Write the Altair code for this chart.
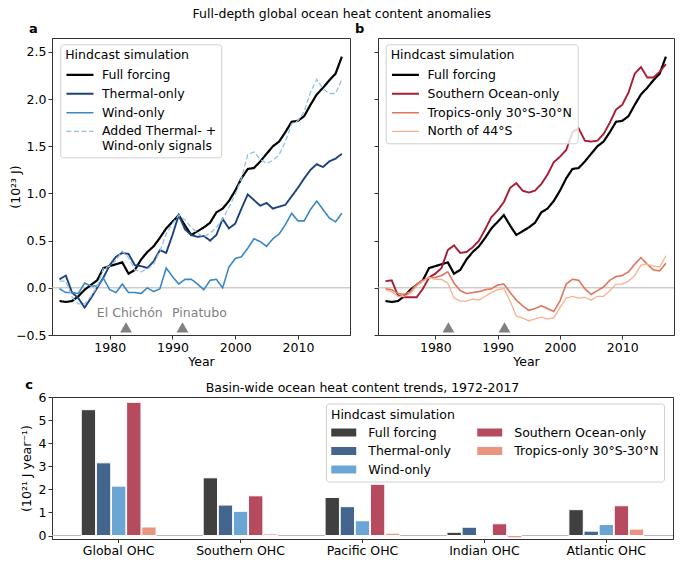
import altair as alt
import pandas as pd

FONT = "DejaVu Sans"
FS = 12.5

years = list(range(1972, 2018))

full_forcing = [-0.14, -0.15, -0.14, -0.09, -0.02, 0.03, 0.08, 0.21, 0.23, 0.25, 0.27, 0.15, 0.19, 0.30, 0.38, 0.44,
                0.53, 0.63, 0.70, 0.77, 0.66, 0.56, 0.60, 0.64, 0.69, 0.80, 0.84, 0.92, 1.03, 1.16, 1.26, 1.27,
                1.34, 1.42, 1.50, 1.55, 1.65, 1.76, 1.77, 1.82, 1.94, 2.05, 2.12, 2.20, 2.27, 2.45]
thermal_only = [0.09, 0.13, -0.05, -0.11, -0.21, -0.11, 0.00, 0.11, 0.24, 0.33, 0.37, 0.36, 0.24, 0.23, 0.21, 0.28,
                0.40, 0.37, 0.56, 0.77, 0.62, 0.56, 0.54, 0.55, 0.50, 0.56, 0.73, 0.63, 0.68, 0.84, 0.99, 0.93,
                0.87, 0.90, 0.84, 0.86, 0.88, 0.97, 1.06, 1.16, 1.25, 1.31, 1.28, 1.34, 1.37, 1.42]
wind_only = [-0.01, -0.05, -0.05, -0.06, 0.05, 0.02, 0.02, 0.10, -0.02, -0.05, 0.04, -0.05, -0.05, -0.06, 0.00, -0.04,
             -0.01, 0.21, 0.12, 0.04, 0.09, 0.09, 0.04, -0.02, 0.08, 0.09, 0.00, 0.22, 0.31, 0.33, 0.42, 0.52,
             0.49, 0.44, 0.52, 0.57, 0.67, 0.79, 0.71, 0.71, 0.83, 0.92, 0.83, 0.74, 0.70, 0.79]
added_signals = [0.07, 0.07, -0.10, -0.17, -0.17, -0.09, 0.01, 0.21, 0.23, 0.29, 0.39, 0.32, 0.19, 0.17, 0.20, 0.25,
                 0.39, 0.57, 0.68, 0.77, 0.72, 0.64, 0.58, 0.54, 0.58, 0.64, 0.73, 0.85, 0.99, 1.16, 1.41, 1.44,
                 1.36, 1.32, 1.35, 1.41, 1.55, 1.74, 1.77, 1.87, 2.07, 2.21, 2.11, 2.06, 2.06, 2.21]
southern_only = [0.07, 0.08, -0.08, -0.10, -0.10, -0.10, -0.01, 0.11, 0.15, 0.21, 0.40, 0.45, 0.37, 0.38, 0.43, 0.50,
                 0.62, 0.75, 0.82, 0.91, 1.06, 1.11, 1.03, 1.01, 1.03, 1.10, 1.20, 1.33, 1.39, 1.46, 1.65, 1.69,
                 1.56, 1.55, 1.56, 1.63, 1.75, 1.89, 1.94, 2.07, 2.27, 2.34, 2.23, 2.23, 2.29, 2.37]
tropics_only = [-0.01, -0.02, -0.06, -0.07, -0.04, 0.04, 0.08, 0.11, 0.11, 0.13, 0.17, 0.05, -0.03, -0.06, -0.05, -0.04,
                -0.02, -0.01, 0.03, 0.04, -0.05, -0.13, -0.19, -0.24, -0.22, -0.19, -0.22, -0.25, -0.14, 0.04, 0.09, 0.08,
                -0.01, -0.07, -0.03, 0.01, 0.08, 0.12, 0.13, 0.17, 0.25, 0.32, 0.25, 0.19, 0.18, 0.26]
north_44s = [-0.02, -0.04, -0.09, -0.09, -0.06, 0.02, 0.07, 0.11, 0.09, 0.09, 0.05, -0.11, -0.14, -0.14, -0.12, -0.13,
             -0.09, -0.05, -0.02, -0.01, -0.14, -0.30, -0.32, -0.35, -0.33, -0.31, -0.33, -0.32, -0.21, -0.11, -0.09, -0.11,
             -0.10, -0.13, -0.09, -0.09, -0.03, 0.04, 0.04, 0.07, 0.13, 0.24, 0.25, 0.23, 0.22, 0.34]

names_a = ["Full forcing", "Thermal-only", "Wind-only", "Added Thermal- + Wind-only signals"]
colors_a = ["#000000", "#1b427e", "#3a87c5", "#90c2e4"]
names_b = ["Full forcing", "Southern Ocean-only", "Tropics-only 30°S-30°N", "North of 44°S"]
colors_b = ["#000000", "#a81c36", "#e3735a", "#f9b08e"]

volcano_names = ["El Chichón", "Pinatubo"]
volcano_years_a = [1982.6, 1991.6]
volcano_years_b = [1982.1, 1991.1]
volcano_label_years = [1983.2, 1994.3]

basins = ["Global OHC", "Southern OHC", "Pacific OHC", "Indian OHC", "Atlantic OHC"]
sims_c = ["Full forcing", "Thermal-only", "Wind-only", "Southern Ocean-only", "Tropics-only 30°S-30°N"]
trend_full = [5.45, 2.50, 1.65, 0.14, 1.12]
trend_thermal = [3.15, 1.32, 1.25, 0.36, 0.19]
trend_wind = [2.14, 1.05, 0.64, -0.05, 0.48]
trend_southern = [5.77, 1.72, 2.22, 0.51, 1.29]
trend_tropics = [0.37, 0.07, 0.10, -0.10, 0.28]
colors_c = ["#404040", "#43658e", "#6aa5d3", "#b64a5e", "#e9957f"]

title_main = "Full-depth global ocean heat content anomalies"
title_c = "Basin-wide ocean heat content trends, 1972-2017"

# ---------- tables ----------
def long_table(names, series):
    rows = []
    for n, vals in zip(names, series):
        for y, v in zip(years, vals):
            rows.append({"year": y, "value": v, "series": n})
    return pd.DataFrame(rows)

df_a = long_table(names_a, [full_forcing, thermal_only, wind_only, added_signals])
df_b = long_table(names_b, [full_forcing, southern_only, tropics_only, north_44s])
zero_df = pd.DataFrame({"value": [0.0]})

rows = []
for s, vals in zip(sims_c, [trend_full, trend_thermal, trend_wind, trend_southern, trend_tropics]):
    for b, v in zip(basins, vals):
        rows.append({"basin": b, "sim": s, "trend": v})
df_c = pd.DataFrame(rows)

# ---------- line panels ----------
AH = 297
AW, BW = 298, 296
def line_panel(df, names, colors, dashes, widths, vol_years, label, lx, width, show_y, with_text):
    X = alt.X("year:Q", scale=alt.Scale(domain=[1970.8, 2018.3], nice=False, zero=False),
              axis=alt.Axis(title="Year", values=[1980, 1990, 2000, 2010], format="d", grid=False,
                            titlePadding=2))
    if show_y:
        yaxis = alt.Axis(title="(10²³ J)", values=[-0.5, 0, 0.5, 1, 1.5, 2, 2.5], format=".1f", grid=False,
                         titleX=-37, titleY=AH / 2, titleAlign="center", titleBaseline="middle", titleAngle=-90)
    else:
        yaxis = alt.Axis(title=None, values=[-0.5, 0, 0.5, 1, 1.5, 2, 2.5], labels=False, grid=False)
    Y = alt.Y("value:Q", scale=alt.Scale(domain=[-0.5, 2.648], nice=False, zero=False), axis=yaxis)

    zero = alt.Chart(zero_df).mark_rule(color="#b5b5b5", strokeWidth=1).encode(y=Y)
    leg = alt.Legend(title="Hindcast simulation", orient="none", legendX=lx, legendY=6.3,
                     symbolType="M-2,0H2", symbolSize=182.25, symbolOffset=6.75, labelOffset=14,
                     rowPadding=4, titlePadding=5, padding=5, labelLimit=400,
                     labelExpr="datum.label == 'Added Thermal- + Wind-only signals' ? "
                               "['Added Thermal- +', 'Wind-only signals'] : datum.label")
    lines = alt.Chart(df).mark_line(clip=True).encode(
        x=X, y=Y,
        color=alt.Color("series:N", scale=alt.Scale(domain=names, range=colors), legend=leg),
        strokeDash=alt.StrokeDash("series:N", scale=alt.Scale(domain=names, range=dashes), legend=leg),
        strokeWidth=alt.StrokeWidth("series:N", scale=alt.Scale(domain=names, range=widths), legend=leg),
        detail="series:N",
    )
    tri_df = pd.DataFrame({"year": vol_years, "value": [-0.42, -0.42]})
    tri = alt.Chart(tri_df).mark_point(shape="triangle-up", filled=True, size=140, color="#808080",
                                       opacity=1).encode(x=X, y=Y)
    layers = [zero, lines, tri]
    if with_text:
        txt_df = pd.DataFrame({"year": volcano_label_years, "value": [-0.27, -0.27], "name": volcano_names})
        txt = alt.Chart(txt_df).mark_text(color="#808080", fontSize=FS, font=FONT).encode(
            x=X, y=Y, text="name:N")
        layers.append(txt)
    return alt.layer(*layers).properties(
        width=width, height=AH,
        title=alt.TitleParams(label, anchor="start", frame="group", dx=-23, fontSize=13, fontWeight="bold",
                              offset=2, font=FONT),
    )

panel_a = line_panel(df_a, names_a, colors_a, [[1, 0], [1, 0], [1, 0], [5, 2.5]], [2.2, 1.3, 1.3, 1.3],
                     volcano_years_a, "a", 8.2, AW, True, True)
panel_b = line_panel(df_b, names_b, colors_b, [[1, 0], [1, 0], [1, 0], [1, 0]], [2.2, 1.3, 1.6, 1.3],
                     volcano_years_b, "b", 7.7, BW, False, False)

# ---------- bar panel ----------
CW, CH = 621, 142
Yc = alt.Y("trend:Q", scale=alt.Scale(domain=[-0.15, 6], nice=False, zero=False),
           axis=alt.Axis(title="(10²¹ J year⁻¹)", values=[0, 1, 2, 3, 4, 5, 6], format="d", grid=False,
                         titleX=-26, titleY=CH / 2, titleAlign="center", titleBaseline="middle", titleAngle=-90))
bars = alt.Chart(df_c).mark_bar(stroke="white", strokeWidth=1).encode(
    x=alt.X("basin:N", sort=basins, scale=alt.Scale(paddingInner=0.386, paddingOuter=0.24),
            axis=alt.Axis(title=None, labelAngle=0, labelPadding=1.5, tickSize=3.5)),
    xOffset=alt.XOffset("sim:N", sort=sims_c, scale=alt.Scale(paddingOuter=0, paddingInner=0.05)),
    y=Yc,
    color=alt.Color("sim:N", scale=alt.Scale(domain=sims_c, range=colors_c),
                    legend=alt.Legend(title="Hindcast simulation", orient="none", legendX=274, legendY=6.5,
                                      columns=2, columnPadding=26, symbolType="M-2,-0.64H2V0.64H-2Z",
                                      symbolSize=156.25, symbolOffset=6.25, symbolStrokeWidth=0,
                                      labelOffset=18, rowPadding=5.5, titlePadding=5, padding=5,
                                      labelLimit=400)),
)
zero_c = alt.Chart(pd.DataFrame({"trend": [0.0]})).mark_rule(color="#b5b5b5", strokeWidth=1).encode(y=Yc)
heads = pd.DataFrame({"t": ["c", title_c]})
clabel = alt.Chart(heads.iloc[[0]]).mark_text(fontWeight="bold", fontSize=13, font=FONT,
                                              align="center", baseline="middle").encode(
    text="t:N", x=alt.value(-23), y=alt.value(-12))
ctitle = alt.Chart(heads.iloc[[1]]).mark_text(fontSize=FS, font=FONT, align="center", baseline="middle").encode(
    text="t:N", x=alt.value(CW / 2), y=alt.value(-9))
panel_c = alt.layer(zero_c, bars, clabel, ctitle).properties(width=CW, height=CH)

top = alt.hconcat(panel_a, panel_b, spacing=3).resolve_scale(color="independent", strokeDash="independent",
                                                             strokeWidth="independent")
chart = alt.vconcat(top, panel_c, spacing=9).resolve_scale(color="independent").properties(
    padding=0,
    title=alt.TitleParams(title_main, anchor="middle", fontSize=FS, fontWeight="normal", offset=2, font=FONT),
).configure_view(stroke="#333333", strokeWidth=1).configure_axis(
    labelFont=FONT, titleFont=FONT, labelFontSize=FS, titleFontSize=FS, titleFontWeight="normal",
    labelColor="black", titleColor="black", tickColor="#333333", domainColor="#333333",
    tickSize=4, labelPadding=2,
).configure_legend(
    labelFont=FONT, titleFont=FONT, labelFontSize=FS, titleFontSize=FS, titleFontWeight="normal",
    labelColor="black", titleColor="black", strokeColor="#d0d0d0", fillColor="rgba(255,255,255,0.8)",
    cornerRadius=3,
).configure_title(font=FONT, color="black")

chart.save("out.html", embed_options={"renderer": "svg", "actions": False})
